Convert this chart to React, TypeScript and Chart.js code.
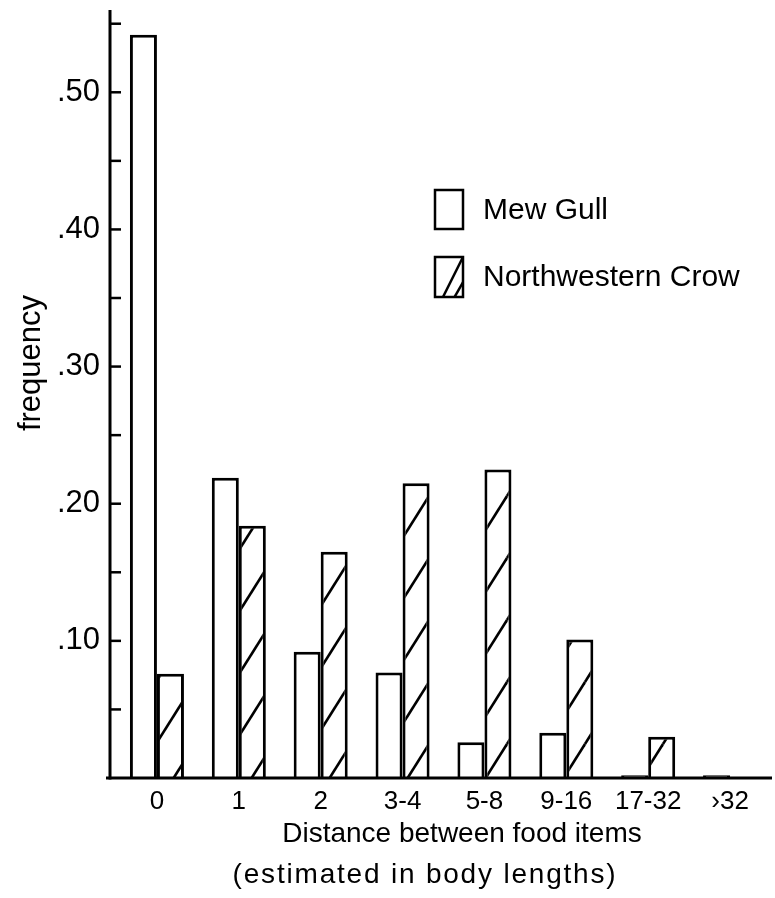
import React, { useEffect, useRef } from "react";
import { Chart, registerables } from "chart.js";

Chart.register(...registerables);

const categories = ["0", "1", "2", "3-4", "5-8", "9-16", "17-32", "\u203A32"];
const mewGull = [0.542, 0.219, 0.092, 0.077, 0.026, 0.033, 0.002, 0.002];
const northwesternCrow = [0.076, 0.184, 0.165, 0.215, 0.225, 0.101, 0.03, 0];
const seriesNames = ["Mew Gull", "Northwestern Crow"];
const yTickValues = [0.05, 0.1, 0.15, 0.2, 0.25, 0.3, 0.35, 0.4, 0.45, 0.5, 0.55];
const xTitleLines = ["Distance between food items", "(estimated in body lengths)"];
const yTitle = "frequency";

const FONT = "'Liberation Sans', Arial, sans-serif";

function makeHatch(): CanvasPattern | string {
  const w = 39;
  const h = 62;
  const c = document.createElement("canvas");
  c.width = w;
  c.height = h;
  const g = c.getContext("2d");
  if (!g) return "#fff";
  g.fillStyle = "#fff";
  g.fillRect(0, 0, w, h);
  g.strokeStyle = "#000";
  g.lineWidth = 2.6;
  const offs = [
    [0, 0],
    [-w, 0],
    [w, 0],
    [0, -h],
    [0, h],
  ];
  for (const [dx, dy] of offs) {
    g.beginPath();
    g.moveTo(dx, h + dy);
    g.lineTo(w + dx, dy);
    g.stroke();
  }
  const p = g.createPattern(c, "repeat");
  return p || "#fff";
}

export default function App() {
  const ref = useRef<HTMLCanvasElement | null>(null);

  useEffect(() => {
    const canvas = ref.current;
    if (!canvas) return;
    const hatch = makeHatch();

    const decor = {
      id: "decor",
      afterDatasetsDraw(chart: any) {
        const ctx = chart.ctx as CanvasRenderingContext2D;
        const y = chart.scales.y;
        const area = chart.chartArea;
        const axisX = area.left - 6;
        ctx.save();
        ctx.strokeStyle = "#000";
        ctx.lineCap = "butt";
        ctx.lineWidth = 3;
        ctx.beginPath();
        ctx.moveTo(axisX, area.top);
        ctx.lineTo(axisX, area.bottom + 1.5);
        ctx.stroke();
        ctx.beginPath();
        ctx.moveTo(axisX - 4, area.bottom);
        ctx.lineTo(area.right + 1, area.bottom);
        ctx.stroke();
        ctx.lineWidth = 2.5;
        for (const v of yTickValues) {
          const py = y.getPixelForValue(v);
          ctx.beginPath();
          ctx.moveTo(axisX, py);
          ctx.lineTo(axisX + 11, py);
          ctx.stroke();
        }
        ctx.restore();
      },
      afterDraw(chart: any) {
        const ctx = chart.ctx as CanvasRenderingContext2D;
        ctx.save();
        ctx.fillStyle = "#000";
        ctx.strokeStyle = "#000";
        ctx.font = `28px ${FONT}`;
        ctx.textAlign = "center";
        ctx.textBaseline = "alphabetic";
        ctx.fillText(xTitleLines[0], 462, 842);
        (ctx as any).letterSpacing = "1.8px";
        ctx.fillText(xTitleLines[1], 425, 883);
        (ctx as any).letterSpacing = "0px";
        ctx.save();
        ctx.translate(40, 363);
        ctx.rotate(-Math.PI / 2);
        ctx.font = `31px ${FONT}`;
        ctx.textAlign = "center";
        ctx.textBaseline = "alphabetic";
        ctx.fillText(yTitle, 0, 0);
        ctx.restore();
        const bx = 435;
        const bw = 28;
        const items = [
          { y: 190, h: 39, hatch: false },
          { y: 257, h: 40, hatch: true },
        ];
        ctx.font = `30px ${FONT}`;
        ctx.textAlign = "left";
        ctx.textBaseline = "middle";
        items.forEach((it, i) => {
          ctx.fillStyle = "#fff";
          ctx.fillRect(bx, it.y, bw, it.h);
          if (it.hatch) {
            ctx.save();
            ctx.beginPath();
            ctx.rect(bx, it.y, bw, it.h);
            ctx.clip();
            ctx.lineWidth = 2.5;
            ctx.beginPath();
            ctx.moveTo(bx + 8, it.y + it.h);
            ctx.lineTo(bx + 29, it.y - 2);
            ctx.stroke();
            ctx.beginPath();
            ctx.moveTo(bx + 19, it.y + it.h + 1);
            ctx.lineTo(bx + 31, it.y + it.h - 20);
            ctx.stroke();
            ctx.restore();
          }
          ctx.lineWidth = 2.5;
          ctx.strokeRect(bx, it.y, bw, it.h);
          ctx.fillStyle = "#000";
          ctx.fillText(seriesNames[i], 483, it.y + it.h / 2 + 1);
        });
        ctx.restore();
      },
    };

    const chart = new Chart(canvas, {
      type: "bar",
      data: {
        labels: categories,
        datasets: [
          {
            label: seriesNames[0],
            data: mewGull,
            backgroundColor: "#fff",
            borderColor: "#000",
            borderWidth: 3,
            categoryPercentage: 0.66,
            barPercentage: 1,
          },
          {
            label: seriesNames[1],
            data: northwesternCrow,
            backgroundColor: hatch as any,
            borderColor: "#000",
            borderWidth: 3,
            categoryPercentage: 0.66,
            barPercentage: 1,
          },
        ],
      },
      options: {
        animation: false,
        responsive: false,
        devicePixelRatio: 1,
        layout: { padding: { top: 10, right: 4, left: 0, bottom: 0 } },
        plugins: {
          legend: { display: false },
          tooltip: { enabled: false },
          title: { display: false },
        },
        scales: {
          x: {
            type: "category",
            offset: true,
            grid: { display: false, drawTicks: false },
            border: { display: false },
            ticks: {
              color: "#000",
              font: { family: FONT, size: 26 },
              padding: 8,
              maxRotation: 0,
              autoSkip: false,
            },
            afterFit(scale: any) {
              scale.height = 120;
              scale.paddingLeft = 0;
              scale.paddingRight = 0;
            },
          },
          y: {
            min: 0,
            max: 0.56,
            grid: { display: false, drawTicks: false },
            border: { display: false },
            ticks: {
              stepSize: 0.05,
              autoSkip: false,
              color: "#000",
              font: { family: FONT, size: 31 },
              padding: 16,
              callback: (v: any) => {
                const n = Math.round(Number(v) * 100);
                if (n <= 0 || n % 10 !== 0 || Math.abs(Number(v) * 100 - n) > 0.01) return "";
                return "." + String(n).padStart(2, "0");
              },
            },
            afterFit(scale: any) {
              scale.width = 116;
              scale.paddingTop = 0;
              scale.paddingBottom = 0;
            },
          },
        },
      },
      plugins: [decor],
    });

    return () => {
      chart.destroy();
    };
  }, []);

  return (
    <div style={{ position: "fixed", left: 0, top: 0, width: 775, height: 898, background: "#fff" }}>
      <canvas ref={ref} width={775} height={898} style={{ width: 775, height: 898, display: "block" }} />
    </div>
  );
}
